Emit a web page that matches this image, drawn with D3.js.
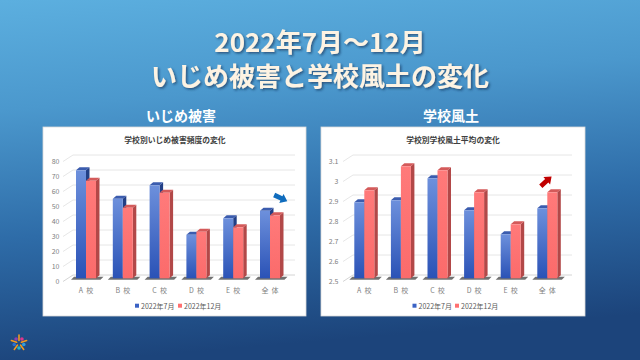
<!DOCTYPE html>
<html><head><meta charset="utf-8">
<script src="https://cdn.jsdelivr.net/npm/d3@7"></script>
<style>
html,body{margin:0;padding:0;background:#2b6aa3;}
svg{display:block;}
text{font-family:"Noto Sans CJK JP","Noto Sans",sans-serif;}
.xl text{white-space:pre;}
</style></head>
<body>
<svg id="c" width="640" height="360"></svg>
<script>
const categories = ["A  校","B  校","C  校","D  校","E  校","全  体"];
const seriesNames = ["2022年7月","2022年12月"];
const bullyJul = [72,53,62,29,40,45];
const bullyDec = [65,47,57,31,34,42];
const climateJul = [2.88,2.89,3.00,2.84,2.72,2.85];
const climateDec = [2.94,3.06,3.04,2.93,2.77,2.93];
const bullyTicks = [0,10,20,30,40,50,60,70,80];
const climateTicks = [2.5,2.6,2.7,2.8,2.9,3.0,3.1];
const titleLines = ["2022年7月～12月","いじめ被害と学校風土の変化"];
const panelHeads = ["いじめ被害","学校風土"];
const chartTitles = ["学校別いじめ被害頻度の変化","学校別学校風土平均の変化"];

const svg = d3.select("#c");
const defs = svg.append("defs");
const bg = defs.append("linearGradient").attr("id","bg").attr("x1",0).attr("y1",0).attr("x2",0.15).attr("y2",1);
bg.append("stop").attr("offset","0").attr("stop-color","#5cafdf");
bg.append("stop").attr("offset","0.3").attr("stop-color","#4b98cd");
bg.append("stop").attr("offset","0.65").attr("stop-color","#2e6ca8");
bg.append("stop").attr("offset","1").attr("stop-color","#1c447b");
const gb = defs.append("linearGradient").attr("id","gblue").attr("x1",0).attr("y1",0).attr("x2",0).attr("y2",1);
gb.append("stop").attr("offset","0").attr("stop-color","#6d90dc");
gb.append("stop").attr("offset","1").attr("stop-color","#2a52b6");
const gr = defs.append("linearGradient").attr("id","gred").attr("x1",0).attr("y1",0).attr("x2",0).attr("y2",1);
gr.append("stop").attr("offset","0").attr("stop-color","#ff7a7a");
gr.append("stop").attr("offset","1").attr("stop-color","#fb6b6b");
const sh = defs.append("filter").attr("id","ts").attr("x","-10%").attr("y","-20%").attr("width","120%").attr("height","150%");
sh.append("feDropShadow").attr("dx",1.5).attr("dy",1.5).attr("stdDeviation",1).attr("flood-color","#0b2848").attr("flood-opacity",0.6);

svg.append("rect").attr("width",640).attr("height",360).attr("fill","url(#bg)");

// main title
svg.selectAll("text.mt").data(titleLines).join("text")
  .attr("class","mt").attr("x",320).attr("y",(d,i)=>[40,74][i])
  .attr("text-anchor","middle").attr("dominant-baseline","central")
  .attr("font-size",26).attr("font-weight","bold").attr("fill","#fdf3e3")
  .attr("filter","url(#ts)").text(d=>d);

// panel heads
svg.selectAll("text.ph").data(panelHeads).join("text")
  .attr("class","ph").attr("x",(d,i)=>[181,451][i]).attr("y",114.5)
  .attr("text-anchor","middle").attr("dominant-baseline","central")
  .attr("font-size",14).attr("font-weight","bold").attr("fill","#ffffff").text(d=>d);

const configs = [
  {px:43,pw:263,title:chartTitles[0],tcx:175,jul:bullyJul,dec:bullyDec,ticks:bullyTicks,dom:[0,80],
   fmt:d3.format("d"),axX:59.5,frontX:63,backR:295,xr:[67.6,288.4],legX:[135,178],
   arrow:{cx:280.5,cy:198,a:25,c:"#0f6cbd"}},
  {px:321,pw:264,title:chartTitles[1],tcx:453,jul:climateJul,dec:climateDec,ticks:climateTicks,dom:[2.5,3.1],
   fmt:v=>d3.format("")(+v.toFixed(1)),axX:338.5,frontX:343,backR:572,xr:[346.0,565.6],legX:[412.5,455],
   arrow:{cx:546,cy:181.5,a:-42,c:"#c00000"}}
];

const yBase = 278.3, yTop = 158.3;
const sd = 3.5, sdy = 3;

configs.forEach(cfg=>{
  const g = svg.append("g");
  g.append("rect").attr("x",cfg.px).attr("y",127).attr("width",cfg.pw).attr("height",189)
    .attr("fill","#ffffff").attr("stroke","#d9d9d9").attr("stroke-width",0.8);
  g.append("text").attr("x",cfg.tcx).attr("y",139.5).attr("text-anchor","middle").attr("dominant-baseline","central")
    .attr("font-size",7.8).attr("font-weight","bold").attr("fill","#404040").text(cfg.title);

  const y = d3.scaleLinear().domain(cfg.dom).range([yBase, yTop]);
  const x = d3.scaleBand().domain(categories).range(cfg.xr).padding(0);
  const xs = d3.scaleBand().domain(seriesNames).range([0,20]).padding(0);

  // gridlines (3D back wall + side)
  g.append("g").selectAll("path").data(cfg.ticks).join("path")
    .attr("d",v=>{const yl=y(v)+2.7, yb=y(v)-3.3;
      return `M${cfg.frontX},${yl+0.5}L${cfg.frontX+10},${yb}L${cfg.backR},${yb}`;})
    .attr("fill","none").attr("stroke",(v,i)=>i===0?"#cfcfcf":"#e3e3e3").attr("stroke-width",0.9);

  // y axis labels
  const ya = g.append("g").attr("transform",`translate(${cfg.axX},2.7)`)
    .call(d3.axisLeft(y).tickValues(cfg.ticks).tickSize(0).tickPadding(0).tickFormat(cfg.fmt));
  ya.select(".domain").remove();
  ya.selectAll("text").attr("font-size",7).attr("fill","#808080")
    .attr("font-family","'Noto Sans','DejaVu Sans',sans-serif");

  // x axis labels
  const xa = g.append("g").attr("class","xl").attr("transform","translate(0,290.7)")
    .call(d3.axisBottom(x).tickSize(0).tickPadding(0));
  xa.select(".domain").remove();
  xa.selectAll("text").attr("y",0).attr("dy","0.35em").attr("font-size",7).attr("fill","#808080")
    .attr("font-family","'Noto Sans CJK JP',sans-serif");

  // floor shadows
  g.append("g").selectAll("path").data(categories).join("path")
    .attr("d",c=>{const cx=x(c)+x.bandwidth()/2; const l=cx-15, r=cx+14.5;
      return `M${l},${yBase+1.5}L${l+3},${yBase-1.5}L${r+3},${yBase-1.5}L${r},${yBase+1.5}Z`;})
    .attr("fill","#595959").attr("opacity",0.85);

  const series = [
    {name:seriesNames[0],vals:cfg.jul,front:"url(#gblue)",side:"#223f86",topc:"#3b5cae"},
    {name:seriesNames[1],vals:cfg.dec,front:"url(#gred)",side:"#b24848",topc:"#d45a5a"}
  ];
  series.forEach(s=>{
    const bg2 = g.append("g");
    categories.forEach((c,i)=>{
      const x0 = x(c)+x.bandwidth()/2-10+xs(s.name), w = xs.bandwidth();
      const yt = y(s.vals[i]);
      bg2.append("path").attr("d",`M${x0+w},${yt}L${x0+w+sd},${yt-sdy}L${x0+w+sd},${yBase-sdy}L${x0+w},${yBase}Z`).attr("fill",s.side);
      bg2.append("path").attr("d",`M${x0},${yt}L${x0+sd},${yt-sdy}L${x0+w+sd},${yt-sdy}L${x0+w},${yt}Z`).attr("fill",s.topc);
      bg2.append("rect").attr("x",x0).attr("y",yt).attr("width",w).attr("height",yBase-yt).attr("fill",s.front);
    });
  });

  // legend
  const lg = g.append("g");
  seriesNames.forEach((n,i)=>{
    const lx = cfg.legX[i];
    lg.append("rect").attr("x",lx).attr("y",303.7).attr("width",4).attr("height",4).attr("fill",i?"#ff7070":"#3a62c4");
    lg.append("text").attr("x",lx+6).attr("y",305.7).attr("dominant-baseline","central")
      .attr("font-size",7).attr("fill","#595959").text(n);
  });

  // arrow
  const a = cfg.arrow;
  g.append("path").attr("transform",`translate(${a.cx},${a.cy}) rotate(${a.a})`)
    .attr("d","M-7,-2.4L1,-2.4L1,-5L7.5,0L1,5L1,2.4L-7,2.4Z").attr("fill",a.c);
});

// logo
const logo = svg.append("g").attr("transform","translate(19,343)");
const ang = d3.range(5).map(i=>-90+i*72);
logo.selectAll("line").data(ang).join("line")
  .attr("x1",d=>Math.cos(d*Math.PI/180)*2.5).attr("y1",d=>Math.sin(d*Math.PI/180)*2.5)
  .attr("x2",d=>Math.cos(d*Math.PI/180)*8).attr("y2",d=>Math.sin(d*Math.PI/180)*8)
  .attr("stroke","#f39a1e").attr("stroke-width",1.6).attr("stroke-linecap","round");
const dotCols = ["#e0368c","#2d9be0","#25b4c8","#2b6fd0","#8a3fb0"];
logo.selectAll("circle").data(ang).join("circle")
  .attr("cx",d=>Math.cos((d+36)*Math.PI/180)*5).attr("cy",d=>Math.sin((d+36)*Math.PI/180)*5)
  .attr("r",1.8).attr("fill",(d,i)=>dotCols[i]);
</script>
</body></html>
